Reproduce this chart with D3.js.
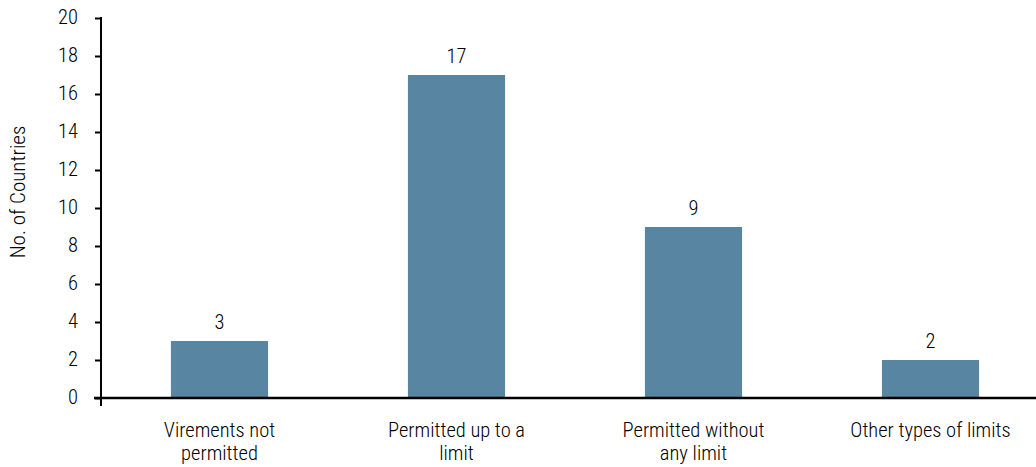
<!DOCTYPE html>
<html>
<head>
<meta charset="utf-8">
<script src="https://cdn.jsdelivr.net/npm/d3@7"></script>
<style>
  html, body { margin: 0; padding: 0; background: #fff; }
  svg text { font-family: "Liberation Sans Narrow", "Arial Narrow", "Roboto Condensed", sans-serif; font-weight: 300; fill: #000; }
</style>
</head>
<body>
<svg id="chart" width="1036" height="467"></svg>
<script>
// Data
const categories = [
  ["Virements not", "permitted"],
  ["Permitted up to a", "limit"],
  ["Permitted without", "any limit"],
  ["Other types of limits"]
];
const values = [3, 17, 9, 2];
const yTicks = [0, 2, 4, 6, 8, 10, 12, 14, 16, 18, 20];
const yTitle = "No. of Countries";

const svg = d3.select("#chart");
const barColor = "#5886a2";
const fontSize = 20.5;

const idx = d3.range(categories.length);
const x = d3.scaleBand()
  .domain(idx)
  .range([101, 1049])
  .paddingInner(0.59)
  .paddingOuter(0.295);

const y = d3.scaleLinear()
  .domain([0, 20])
  .range([398, 18]);

// Bars
svg.append("g")
  .selectAll("rect")
  .data(values)
  .join("rect")
  .attr("x", (d, i) => x(i))
  .attr("y", d => y(d))
  .attr("width", x.bandwidth())
  .attr("height", d => y(0) - y(d))
  .attr("fill", barColor);

// Value labels
svg.append("g")
  .selectAll("text")
  .data(values)
  .join("text")
  .attr("x", (d, i) => x(i) + x.bandwidth() / 2)
  .attr("y", d => y(d) - 12)
  .attr("text-anchor", "middle")
  .attr("font-size", fontSize)
  .text(d => d);

// Y axis
const yAxis = d3.axisLeft(y)
  .tickValues(yTicks)
  .tickSize(6)
  .tickPadding(17)
  .tickSizeOuter(0);

const gy = svg.append("g")
  .attr("transform", "translate(101,0)")
  .call(yAxis);
gy.select(".domain").remove();
gy.selectAll(".tick line").attr("stroke", "#000").attr("stroke-width", 2);
gy.selectAll(".tick text")
  .attr("font-size", fontSize)
  .attr("fill", "#000")
  .attr("dy", "0.28em");

// Vertical axis line (extends slightly below baseline)
svg.append("line")
  .attr("x1", 101).attr("x2", 101)
  .attr("y1", y(20) - 1).attr("y2", y(0) + 8)
  .attr("stroke", "#000").attr("stroke-width", 2);

// Baseline
svg.append("line")
  .attr("x1", 94).attr("x2", 1036)
  .attr("y1", y(0)).attr("y2", y(0))
  .attr("stroke", "#000").attr("stroke-width", 2.5);

// Category labels
const xl = svg.append("g")
  .selectAll("text")
  .data(categories)
  .join("text")
  .attr("x", (d, i) => x(i) + x.bandwidth() / 2)
  .attr("y", 437)
  .attr("text-anchor", "middle")
  .attr("font-size", fontSize);
xl.selectAll("tspan")
  .data(d => d)
  .join("tspan")
  .attr("x", function() { return d3.select(this.parentNode).attr("x"); })
  .attr("dy", (d, i) => i === 0 ? 0 : 23)
  .text(d => d);

// Y title
svg.append("text")
  .attr("transform", "translate(25,192) rotate(-90)")
  .attr("text-anchor", "middle")
  .attr("font-size", 21)
  .text(yTitle);
</script>
</body>
</html>
